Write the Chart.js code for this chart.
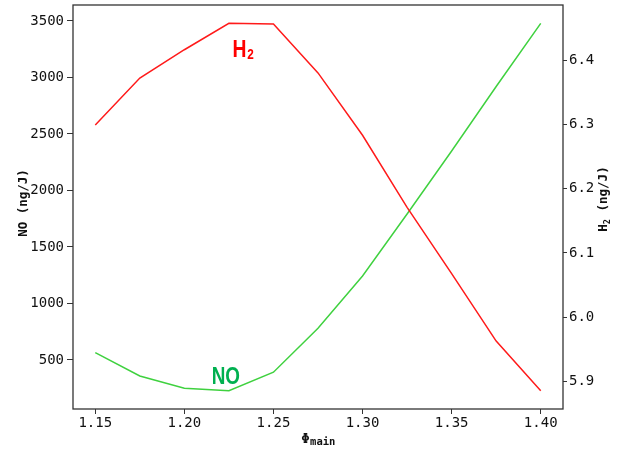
<!DOCTYPE html>
<html>
<head>
<meta charset="utf-8">
<script src="https://cdn.jsdelivr.net/npm/chart.js@4"></script>
<style>
  body { margin: 0; background: #fff; }
  #wrap { width: 621px; height: 450px; }
</style>
</head>
<body>
<div id="wrap"><canvas id="chart" width="621" height="450"></canvas></div>
<script>
// data
const phiMain = [1.15, 1.175, 1.20, 1.225, 1.25, 1.275, 1.30, 1.325, 1.35, 1.375, 1.40];
const noValues = [565, 358, 250, 228, 391, 781, 1243, 1792, 2349, 2920, 3479];
const h2Values = [6.299, 6.372, 6.416, 6.457, 6.456, 6.380, 6.283, 6.171, 6.068, 5.963, 5.886];

const xTicks = [1.15, 1.20, 1.25, 1.30, 1.35, 1.40];
const noTicks = [500, 1000, 1500, 2000, 2500, 3000, 3500];
const h2Ticks = [5.9, 6.0, 6.1, 6.2, 6.3, 6.4];

const MONO = "'DejaVu Sans Mono', monospace";
const LABEL_FONT = "'Liberation Sans', Arial, sans-serif";
const AXIS = "#333";

// matplotlib style 5% margins
function padRange(vals) {
    const lo = Math.min(...vals), hi = Math.max(...vals);
    const m = (hi - lo) * 0.05;
    return [lo - m, hi + m];
}
const xRange = padRange(phiMain);
const noRange = padRange(noValues);
const h2Range = padRange(h2Values);

function pts(ys) {
    return phiMain.map((x, i) => ({ x: x, y: ys[i] }));
}

function fixTicks(list) {
    return function (scale) {
        scale.ticks = list.map(v => ({ value: v }));
    };
}

// fixed box sizes so the plot area sits where the reference has it
function fitV(w) {
    return function (s) {
        s.width = w;
        s.paddingTop = 0;
        s.paddingBottom = 0;
    };
}

const decor = {
    id: "decor",
    afterDraw(chart) {
        const ctx = chart.ctx;
        const a = chart.chartArea;
        const sx = chart.scales.x, sNo = chart.scales.yNo, sH2 = chart.scales.yH2;
        ctx.save();

        // frame
        ctx.strokeStyle = AXIS;
        ctx.lineWidth = 1.3;
        ctx.strokeRect(a.left, a.top, a.right - a.left, a.bottom - a.top);

        ctx.fillStyle = "#111";
        ctx.textBaseline = "alphabetic";

        // x title: Φ with "main" subscript
        ctx.font = "bold 14px " + MONO;
        const phiW = ctx.measureText("Φ").width;
        ctx.font = "bold 10.5px " + MONO;
        const subW = ctx.measureText("main").width;
        let tx = (a.left + a.right) / 2 - (phiW + subW) / 2;
        ctx.textAlign = "left";
        ctx.font = "bold 14px " + MONO;
        ctx.fillText("Φ", tx, 443);
        ctx.font = "bold 10.5px " + MONO;
        ctx.fillText("main", tx + phiW + 0.5, 445);

        // left title
        const midY = (a.top + a.bottom) / 2 - 4;
        ctx.save();
        ctx.translate(27, midY);
        ctx.rotate(-Math.PI / 2);
        ctx.textAlign = "center";
        ctx.font = "bold 12.5px " + MONO;
        ctx.fillText("NO (ng/J)", 0, 0);
        ctx.restore();

        // right title: H with subscript 2
        ctx.save();
        ctx.translate(607, midY - 4);
        ctx.rotate(-Math.PI / 2);
        ctx.font = "bold 12.5px " + MONO;
        const hW = ctx.measureText("H").width;
        const restW = ctx.measureText(" (ng/J)").width;
        ctx.font = "bold 8.5px " + MONO;
        const twoW = ctx.measureText("2").width;
        let rx = -(hW + twoW + restW) / 2;
        ctx.textAlign = "left";
        ctx.font = "bold 12.5px " + MONO;
        ctx.fillText("H", rx, 0);
        ctx.font = "bold 8.5px " + MONO;
        ctx.fillText("2", rx + hW, 2.5);
        ctx.font = "bold 12.5px " + MONO;
        ctx.fillText(" (ng/J)", rx + hW + twoW, 0);
        ctx.restore();

        // in-plot labels, squeezed like a narrow face
        ctx.textAlign = "left";
        let px = sx.getPixelForValue(1.227), py = sH2.getPixelForValue(6.405);
        ctx.save();
        ctx.translate(px, py);
        ctx.scale(0.84, 1);
        ctx.fillStyle = "#ff0000";
        ctx.font = "bold 23px " + LABEL_FONT;
        ctx.fillText("H", 0, 0);
        const HW = ctx.measureText("H").width;
        ctx.font = "bold 14px " + LABEL_FONT;
        ctx.fillText("2", HW + 1, 2);
        ctx.restore();

        px = sx.getPixelForValue(1.2153);
        py = sNo.getPixelForValue(288);
        ctx.save();
        ctx.translate(px, py);
        ctx.scale(0.82, 1);
        ctx.fillStyle = "#00b050";
        ctx.font = "bold 23px " + LABEL_FONT;
        ctx.fillText("NO", 0, 0);
        ctx.restore();

        ctx.restore();
    }
};

const tickFont = { family: MONO, size: 14 };

const chart = new Chart(document.getElementById("chart"), {
    type: "line",
    data: {
        datasets: [
            {
                label: "H2",
                data: pts(h2Values),
                yAxisID: "yH2",
                borderColor: "#ff1a1a",
                borderWidth: 1.5,
                pointRadius: 0,
                tension: 0,
                fill: false
            },
            {
                label: "NO",
                data: pts(noValues),
                yAxisID: "yNo",
                borderColor: "#3fd13f",
                borderWidth: 1.5,
                pointRadius: 0,
                tension: 0,
                fill: false
            }
        ]
    },
    options: {
        responsive: false,
        animation: false,
        events: [],
        layout: { padding: { top: 5, left: 0, right: 0, bottom: 0 } },
        plugins: {
            legend: { display: false },
            tooltip: { enabled: false },
            title: { display: false }
        },
        scales: {
            x: {
                type: "linear",
                position: "bottom",
                min: xRange[0],
                max: xRange[1],
                afterBuildTicks: fixTicks(xTicks),
                afterFit: s => { s.height = 41; s.paddingLeft = 0; s.paddingRight = 0; },
                ticks: {
                    font: tickFont,
                    color: "#111",
                    padding: 1,
                    maxRotation: 0,
                    autoSkip: false,
                    callback: v => Number(v).toFixed(2)
                },
                grid: { drawOnChartArea: false, drawTicks: true, tickLength: 5, color: AXIS },
                border: { display: false }
            },
            yNo: {
                type: "linear",
                position: "left",
                min: noRange[0],
                max: noRange[1],
                afterBuildTicks: fixTicks(noTicks),
                afterFit: fitV(73),
                ticks: {
                    font: tickFont,
                    color: "#111",
                    padding: 3,
                    autoSkip: false,
                    callback: v => String(Math.round(v))
                },
                grid: { drawOnChartArea: false, drawTicks: true, tickLength: 6, color: AXIS },
                border: { display: false }
            },
            yH2: {
                type: "linear",
                position: "right",
                min: h2Range[0],
                max: h2Range[1],
                afterBuildTicks: fixTicks(h2Ticks),
                afterFit: fitV(58),
                ticks: {
                    font: tickFont,
                    color: "#111",
                    padding: 2,
                    autoSkip: false,
                    callback: v => Number(v).toFixed(1)
                },
                grid: { drawOnChartArea: false, drawTicks: true, tickLength: 4, color: AXIS },
                border: { display: false }
            }
        }
    },
    plugins: [decor]
});
</script>
</body>
</html>
